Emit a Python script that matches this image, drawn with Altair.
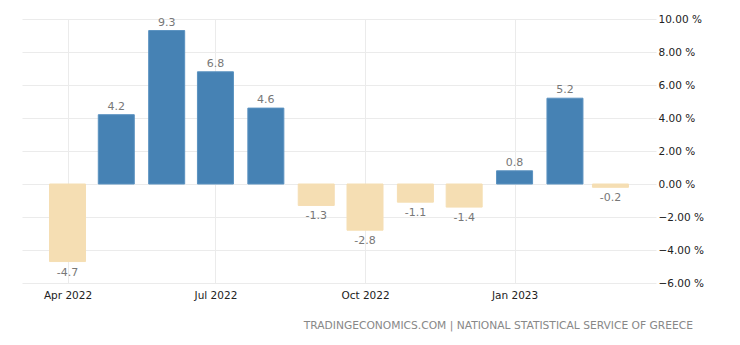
import altair as alt
import pandas as pd

months = ["2022-04-01", "2022-05-01", "2022-06-01", "2022-07-01", "2022-08-01", "2022-09-01",
          "2022-10-01", "2022-11-01", "2022-12-01", "2023-01-01", "2023-02-01", "2023-03-01"]
values = [-4.7, 4.2, 9.3, 6.8, 4.6, -1.3, -2.8, -1.1, -1.4, 0.8, 5.2, -0.2]
x_ticks = ["2022-04-01", "2022-07-01", "2022-10-01", "2023-01-01"]
y_ticks = [-6, -4, -2, 0, 2, 4, 6, 8, 10]
source_text = ["TRADINGECONOMICS.COM | NATIONAL STATISTICAL SERVICE OF GREECE"]


def ms(s):
    return int(pd.Timestamp(s, tz="UTC").value // 10**6)


df = pd.DataFrame({"date": [ms(m) for m in months], "value": values})
df["sign"] = ["pos" if v >= 0 else "neg" for v in values]
df["label"] = [f"{v:.1f}" for v in values]

FONT = "DejaVu Sans"
W, H = 634, 264
PL, PT = 22, 19

x_scale = alt.Scale(type="utc", domain=[ms("2022-03-04"), ms("2023-03-29")], nice=False, padding=0)
y_scale = alt.Scale(domain=[-6, 10], nice=False, zero=False, padding=0)

x_axis = alt.Axis(
    values=[ms(t) for t in x_ticks],
    format="%b %Y", title=None, domain=False, ticks=False,
    labelPadding=7, labelFont=FONT, labelFontSize=10.5, labelColor="#222222",
    grid=True, gridColor="#ebebeb", labelAngle=0,
)
y_axis = alt.Axis(values=y_ticks, orient="right", title=None, domain=False, ticks=False,
                  labelExpr="format(datum.value, '.2f') + ' %'", labelPadding=2,
                  labelFont=FONT, labelFontSize=10.5, labelColor="#222222",
                  grid=True, gridColor="#ebebeb")

x_enc = alt.X("date:T", scale=x_scale, axis=x_axis)
y_enc = alt.Y("value:Q", scale=y_scale, axis=y_axis)

bars = alt.Chart(df).mark_bar(size=36, strokeWidth=1).encode(
    x=x_enc,
    y=y_enc,
    y2=alt.datum(0),
    color=alt.Color("sign:N", scale=alt.Scale(domain=["pos", "neg"], range=["#4682b4", "#f5deb3"]),
                    legend=None),
    stroke=alt.Color("sign:N", scale=alt.Scale(domain=["pos", "neg"], range=["#5a92c0", "#f5deb3"]),
                     legend=None),
)

pos_labels = alt.Chart(df).transform_filter("datum.value >= 0").mark_text(
    baseline="bottom", dy=-3, font=FONT, fontSize=11, color="#777777"
).encode(x=x_enc, y=y_enc, text="label:N")

neg_labels = alt.Chart(df).transform_filter("datum.value < 0").mark_text(
    baseline="top", dy=5, font=FONT, fontSize=11, color="#777777"
).encode(x=x_enc, y=y_enc, text="label:N")

footer = alt.Chart(pd.DataFrame({"t": source_text})).mark_text(
    align="right", baseline="middle", font=FONT, fontSize=10.7, color="#888888"
).encode(x=alt.value(693 - PL), y=alt.value(326 - PT), text="t:N")

chart = alt.layer(bars, pos_labels, neg_labels, footer).properties(
    width=W, height=H,
    autosize=alt.AutoSizeParams(type="none"),
    padding={"left": PL, "top": PT, "right": 740 - PL - W, "bottom": 345 - PT - H},
).configure(background="white", view=alt.ViewConfig(stroke=None))

chart.save("out.html", embed_options={"renderer": "svg", "actions": False})
